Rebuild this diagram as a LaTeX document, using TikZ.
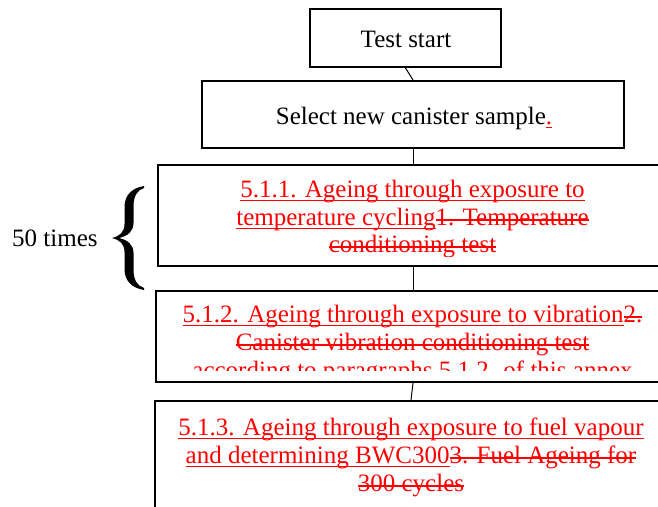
\documentclass[tikz,border=0pt]{standalone}
\usepackage{fontspec}
\setmainfont{Liberation Serif}
\definecolor{revred}{RGB}{255,0,0}
\newcommand{\myul}[1]{\setbox0\hbox{#1}\rlap{\rule[-4.4pt]{\wd0}{1.6pt}}\box0}
\newcommand{\myst}[1]{\setbox0\hbox{#1}\rlap{\rule[4.2pt]{\wd0}{1.6pt}}\box0}
\begin{document}
\begin{tikzpicture}[x=1pt,y=-1pt,
  box/.style={draw=black,line width=2pt,fill=none,inner sep=0pt},
  conn/.style={draw=black,line width=1pt},
  txt/.style={inner sep=0pt,anchor=base,font=\fontsize{25}{27.5}\selectfont},
  rtxt/.style={txt,text=revred}]
\useasboundingbox (0,0) rectangle (658,506);
\clip (0,0) rectangle (658,506);
% boxes
\node[box,minimum width=191pt,minimum height=58pt] (ts) at (405.5,38) {};
\node[box,minimum width=422pt,minimum height=67pt] (sel) at (413,114.5) {};
\node[box,minimum width=510pt,minimum height=101pt] (b3) at (413,215.5) {};
\node[box,minimum width=514pt,minimum height=91pt] (b4) at (413,336.5) {};
\node[box,minimum width=512pt,minimum height=130pt] (b5) at (411,466) {};
% connectors
\draw[conn] (ts.south) -- (sel.north);
\draw[conn] (sel.south) -- (b3.north);
\draw[conn] (b3.south) -- (b4.north);
\draw[conn] (b4.south) -- (b5.north);
% texts
\node[txt] (tst) at (406,47) {Test start};
\node[txt] (selt) at (414,124) {Select new canister sample\textcolor{revred}{\myul{.}}};
\begin{scope}
\clip (159,166) rectangle (668,256);
\node[rtxt] (t3a) at (412.5,197) {\myul{5.1.1. Ageing through exposure to}};
\node[rtxt] (t3b) at (412.5,225) {\myul{temperature cycling}\myst{1. Temperature}};
\node[rtxt] (t3c) at (412.5,252) {\myst{conditioning test}};
\end{scope}
\begin{scope}
\clip (157,292) rectangle (670,370.5);
\node[rtxt] (t4a) at (412.5,322) {\myul{5.1.2. Ageing through exposure to vibration}\myst{2.}};
\node[rtxt] (t4b) at (412.5,350) {\myst{Canister vibration conditioning test}};
\node[rtxt] (t4c) at (412.5,378) {\myst{according to paragraphs 5.1.2. of this annex}};
\end{scope}
\begin{scope}
\clip (156,402) rectangle (668,520);
\node[rtxt] (t5a) at (411,435) {\myul{5.1.3. Ageing through exposure to fuel vapour}};
\node[rtxt] (t5b) at (411,463) {\myul{and determining BWC300}\myst{3. Fuel Ageing for}};
\node[rtxt] (t5c) at (411,491) {\myst{300 cycles}};
\end{scope}
% 50 times with brace
\node[txt,anchor=base west] (times) at (12,246) {50 times};
\fill[black] (144,186) .. controls (132,188) and (124.5,195) .. (124.5,207) -- (124.5,224)
  .. controls (124.5,232) and (120,236) .. (112,238)
  .. controls (120,240) and (124.5,244) .. (124.5,252) -- (124.5,269)
  .. controls (124.5,281) and (132,288) .. (144,290)
  -- (144,288) .. controls (137.5,286) and (133.5,280) .. (133.5,270) -- (133.5,253)
  .. controls (133.5,245) and (128,240) .. (119,238)
  .. controls (128,236) and (133.5,231) .. (133.5,223) -- (133.5,206)
  .. controls (133.5,196) and (137.5,190) .. (144,188) -- cycle;
\end{tikzpicture}
\end{document}
